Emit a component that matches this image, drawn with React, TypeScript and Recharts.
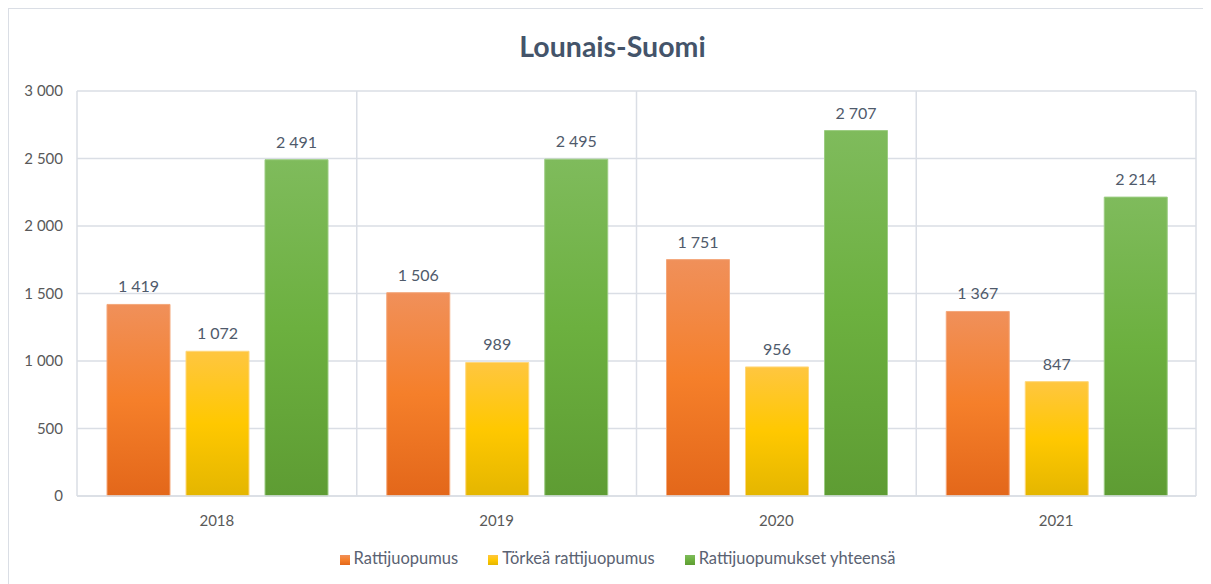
import { BarChart, Bar, XAxis, YAxis, CartesianGrid, Legend, LabelList } from 'recharts';

const years = ['2018', '2019', '2020', '2021'];
const rattijuopumus = [1419, 1506, 1751, 1367];
const torkea = [1072, 989, 956, 847];
const yhteensa = [2491, 2495, 2707, 2214];
const yTicks = [0, 500, 1000, 1500, 2000, 2500, 3000];

const data = years.map((year, i) => ({
  year,
  rattijuopumus: rattijuopumus[i],
  torkea: torkea[i],
  yhteensa: yhteensa[i],
}));

const fmt = (v: number) => String(v).replace(/\B(?=(\d{3})+(?!\d))/g, ' ');

const font = 'Lato, "Open Sans", sans-serif';
const gridColor = '#dadee5';
const labelStyle = { fill: '#4f5a6b', fontSize: 16, fontFamily: font };

export default function App() {
  return (
    <div
      style={{
        position: 'relative',
        width: 1197,
        height: 590,
        border: `1px solid ${gridColor}`,
        background: '#fff',
        fontFamily: font,
      }}
    >
      <div
        style={{
          position: 'absolute',
          top: 20,
          left: 5,
          width: '100%',
          textAlign: 'center',
          fontSize: 28.5,
          fontWeight: 700,
          color: '#44546a',
        }}
      >
        Lounais-Suomi
      </div>
      <BarChart
        width={1197}
        height={580}
        data={data}
        margin={{ top: 82, right: 10, left: 8, bottom: 43 }}
        barCategoryGap={30}
        barGap={16}
      >
        <defs>
          <linearGradient id="gOrange" x1="0" y1="0" x2="0" y2="1">
            <stop offset="0%" stopColor="#f0905a" />
            <stop offset="50%" stopColor="#f57f2a" />
            <stop offset="100%" stopColor="#e3671a" />
          </linearGradient>
          <linearGradient id="gYellow" x1="0" y1="0" x2="0" y2="1">
            <stop offset="0%" stopColor="#ffc640" />
            <stop offset="50%" stopColor="#ffc800" />
            <stop offset="100%" stopColor="#e4b600" />
          </linearGradient>
          <linearGradient id="gGreen" x1="0" y1="0" x2="0" y2="1">
            <stop offset="0%" stopColor="#7fbb5c" />
            <stop offset="50%" stopColor="#6cb03f" />
            <stop offset="100%" stopColor="#5e9c33" />
          </linearGradient>
        </defs>
        <CartesianGrid
          stroke={gridColor}
          strokeWidth={1.5}
          verticalCoordinatesGenerator={({ offset }: any) =>
            [0, 1, 2, 3, 4].map((i) => offset.left + (i * offset.width) / 4)
          }
        />
        <XAxis
          dataKey="year"
          axisLine={{ stroke: gridColor, strokeWidth: 1.5 }}
          tickLine={false}
          tick={{ fill: '#595959', fontSize: 15, fontFamily: font }}
          tickMargin={13}
        />
        <YAxis
          width={60}
          domain={[0, 3000]}
          ticks={yTicks}
          axisLine={false}
          tickLine={false}
          tickFormatter={fmt}
          tick={{ fill: '#595959', fontSize: 15, fontFamily: font }}
          tickMargin={8}
        />
        <Legend
          verticalAlign="bottom"
          iconType="square"
          iconSize={10}
          itemSorter="dataKey"
          wrapperStyle={{ fontSize: 16.5, fontFamily: font, top: 539, left: 34 }}
          formatter={(value: string) => <span style={{ color: '#5a6272', marginRight: 20 }}>{value}</span>}
        />
        <Bar dataKey="rattijuopumus" name="Rattijuopumus" fill="url(#gOrange)" stroke="#f4a77a" strokeWidth={1} isAnimationActive={false} legendType="square">
          <LabelList dataKey="rattijuopumus" position="top" offset={12} formatter={(v: any) => fmt(v)} style={labelStyle} />
        </Bar>
        <Bar dataKey="torkea" name="Törkeä rattijuopumus" fill="url(#gYellow)" stroke="#ffd77a" strokeWidth={1} isAnimationActive={false} legendType="square">
          <LabelList dataKey="torkea" position="top" offset={12} formatter={(v: any) => fmt(v)} style={labelStyle} />
        </Bar>
        <Bar dataKey="yhteensa" name="Rattijuopumukset yhteensä" fill="url(#gGreen)" stroke="#9ccc82" strokeWidth={1} isAnimationActive={false} legendType="square">
          <LabelList dataKey="yhteensa" position="top" offset={12} formatter={(v: any) => fmt(v)} style={labelStyle} />
        </Bar>
      </BarChart>
    </div>
  );
}
